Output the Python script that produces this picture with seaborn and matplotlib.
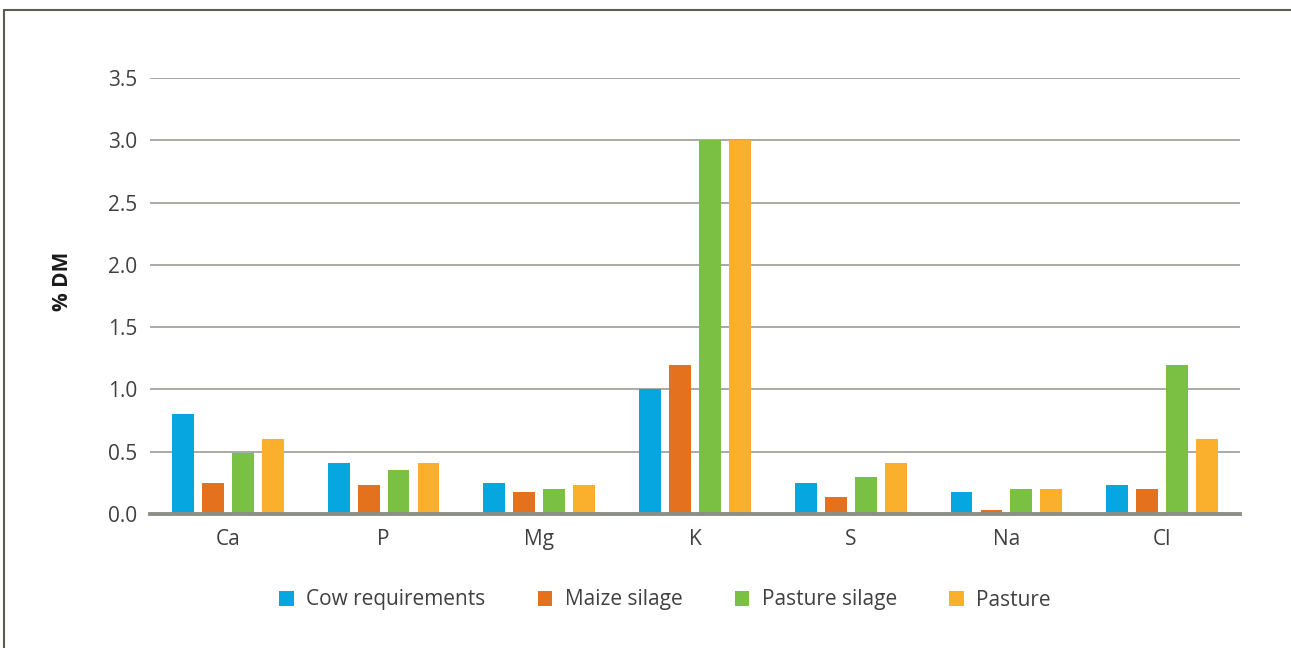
import matplotlib
matplotlib.use("Agg")
import matplotlib.pyplot as plt
import seaborn as sns
import pandas as pd
from matplotlib.lines import Line2D
from matplotlib.patches import Patch

categories = ["Ca", "P", "Mg", "K", "S", "Na", "Cl"]
cow_requirements = [0.80, 0.41, 0.25, 1.00, 0.25, 0.18, 0.23]
maize_silage = [0.25, 0.23, 0.18, 1.20, 0.14, 0.03, 0.20]
pasture_silage = [0.49, 0.35, 0.20, 3.00, 0.30, 0.20, 1.20]
pasture = [0.60, 0.41, 0.23, 3.00, 0.41, 0.20, 0.60]
series_names = ["Cow requirements", "Maize silage", "Pasture silage", "Pasture"]
colors = ["#06A6E0", "#E3711E", "#7AC143", "#FBB02D"]
y_ticks = [0.0, 0.5, 1.0, 1.5, 2.0, 2.5, 3.0, 3.5]

rows = []
for name, vals in zip(series_names, [cow_requirements, maize_silage, pasture_silage, pasture]):
    for c, v in zip(categories, vals):
        rows.append({"Element": c, "Series": name, "Value": v})
df = pd.DataFrame(rows)

sns.set_theme(style="white")
plt.rcParams["font.family"] = ["Open Sans", "DejaVu Sans"]
text_color = "#404040"

fig = plt.figure(figsize=(12.91, 6.48), dpi=100)
ax = fig.add_axes([150/1291, 1 - 514/648, 1090/1291, (514-78)/648])

sns.barplot(data=df, x="Element", y="Value", hue="Series", hue_order=series_names,
            palette=colors, width=0.77, gap=0.27, saturation=1, ax=ax, legend=False,
            errorbar=None, linewidth=0)

ax.set_ylim(0, 3.5)
ax.set_xlim(-0.5, len(categories) - 0.5)
ax.set_yticks(y_ticks)
ax.set_yticklabels([f"{t:.1f}" for t in y_ticks])
ax.yaxis.grid(True, color="#9a9c94", linewidth=1.2)
ax.set_axisbelow(True)
for s in ["top", "right", "left"]:
    ax.spines[s].set_visible(False)
ax.spines["bottom"].set_color("#8c8f86")
ax.spines["bottom"].set_linewidth(2.8)
ax.tick_params(axis="both", length=0, labelsize=15, colors=text_color)
ax.tick_params(axis="y", pad=9)
ax.tick_params(axis="x", pad=11)
ax.set_xlabel("")
ax.set_ylabel("% DM", fontsize=15, fontweight="bold", color="#1a1a1a")
ax.yaxis.set_label_coords((73 - 150) / 1090, (514 - 281) / 436)

handles = [Patch(facecolor=c, edgecolor="none") for c in colors]
fig.legend(handles, series_names, loc="center", bbox_to_anchor=(665/1291, 1 - 600/648),
           ncol=4, frameon=False, fontsize=15, handlelength=0.7, handleheight=0.7,
           columnspacing=2.5, handletextpad=0.6, labelcolor=text_color)

# outer frame lines
fig.add_artist(Line2D([4/1291, 1], [1 - 10/648, 1 - 10/648], color="#5a5d55", linewidth=1.5,
                      transform=fig.transFigure))
fig.add_artist(Line2D([4/1291, 4/1291], [0, 1 - 10/648], color="#5a5d55", linewidth=1.5,
                      transform=fig.transFigure))

fig.savefig("out.png", dpi=100)
